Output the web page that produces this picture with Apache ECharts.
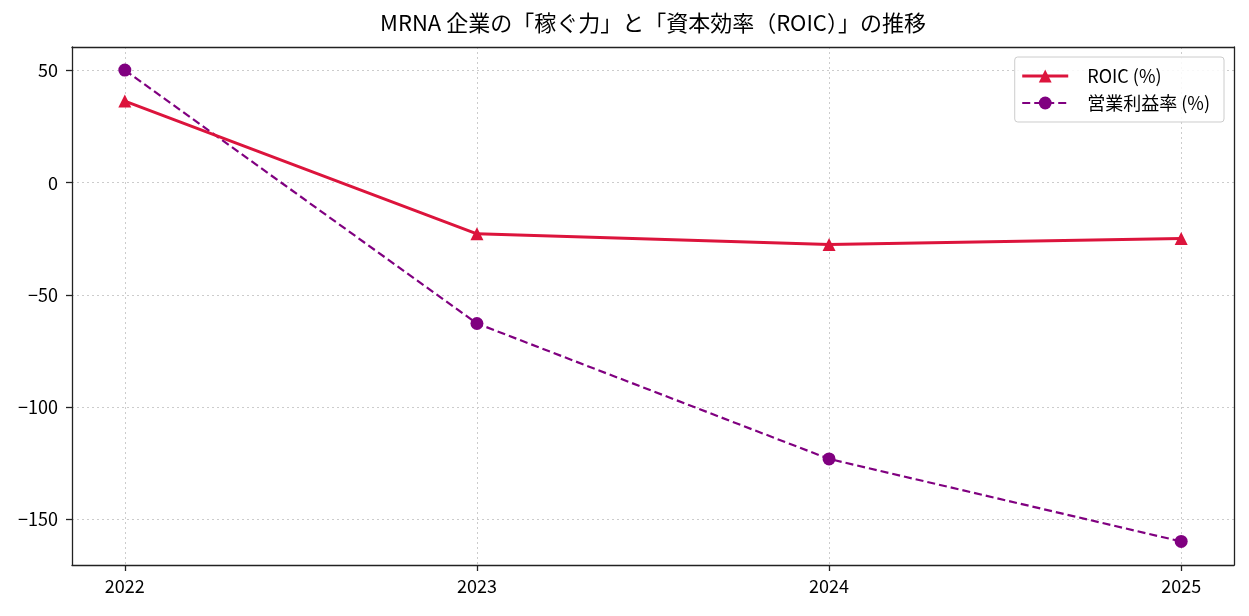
<!DOCTYPE html>
<html><head><meta charset="utf-8">
<script src="https://cdn.jsdelivr.net/npm/echarts@6/dist/echarts.min.js"></script>
<style>html,body{margin:0;padding:0;background:#fff}#c{width:1249px;height:616px}</style>
</head><body><div id="c"></div>
<script>
const years = [2022, 2023, 2024, 2025];
const roic = [36.4, -22.8, -27.6, -24.9];
const opMargin = [50.2, -62.8, -123.2, -160.0];
const yTicks = [-150, -100, -50, 0, 50];
const titleText = 'MRNA 企業の「稼ぐ力」と「資本効率（ROIC）」の推移';
const nameRoic = 'ROIC (%)';
const nameOp = '営業利益率 (%)';

const font = '"Noto Sans CJK JP", "Noto Sans", sans-serif';
const chart = echarts.init(document.getElementById('c'));
const gridLine = {show: true, lineStyle: {color: '#cccccc', type: [2, 3], width: 1}};
const frameLine = {show: true, onZero: false, lineStyle: {color: '#222', width: 1.3}};
chart.setOption({
  animation: false,
  backgroundColor: '#fff',
  textStyle: {fontFamily: font},
  graphic: [{
    type: 'text', x: 653, y: 12,
    style: {text: titleText, fontFamily: font, fontSize: 22, fill: '#000', letterSpacing: 3,
            textAlign: 'center', textVerticalAlign: 'top'}
  }],
  legend: {
    right: 25, top: 57, orient: 'vertical', itemGap: 9,
    itemWidth: 46, itemHeight: 16,
    padding: [10, 14, 10, 6],
    borderColor: '#cccccc', borderWidth: 1, borderRadius: 3,
    backgroundColor: 'rgba(255,255,255,0.85)',
    textStyle: {fontFamily: font, fontSize: 18, color: '#000', padding: [0, 0, 0, 14]},
    data: [
      {name: nameRoic, lineStyle: {width: 3}},
      {name: nameOp, lineStyle: {width: 2.2}}
    ]
  },
  grid: {left: 72, right: 15, top: 47, bottom: 51},
  xAxis: [{
    type: 'value', min: 2021.85, max: 2025.15,
    axisLine: frameLine,
    axisTick: {show: true, length: 6, lineStyle: {color: '#222', width: 1.3}, customValues: years},
    axisLabel: {customValues: years, fontSize: 18, color: '#000', margin: 12, formatter: v => String(v)},
    splitLine: gridLine
  }, {
    type: 'value', position: 'top', min: 2021.85, max: 2025.15,
    axisLine: frameLine, axisTick: {show: false}, axisLabel: {show: false}, splitLine: {show: false}
  }],
  yAxis: [{
    type: 'value', min: -170.5, max: 60.5,
    axisLine: frameLine,
    axisTick: {show: true, length: 6, lineStyle: {color: '#222', width: 1.3}, customValues: yTicks},
    axisLabel: {customValues: yTicks, fontSize: 18, color: '#000', margin: 14,
      formatter: v => (v < 0 ? '\u2212' + Math.abs(v) : String(v))},
    splitLine: gridLine
  }, {
    type: 'value', position: 'right', min: -170.5, max: 60.5,
    axisLine: frameLine, axisTick: {show: false}, axisLabel: {show: false}, splitLine: {show: false}
  }],
  series: [
    {name: nameRoic, type: 'line', data: years.map((y, i) => [y, roic[i]]),
     symbol: 'triangle', symbolSize: 13, itemStyle: {color: '#DC143C'},
     lineStyle: {color: '#DC143C', width: 3}, z: 3},
    {name: nameOp, type: 'line', data: years.map((y, i) => [y, opMargin[i]]),
     symbol: 'circle', symbolSize: 13, itemStyle: {color: '#800080'},
     lineStyle: {color: '#800080', width: 2.2, type: [8, 4]}, z: 2}
  ]
});
</script></body></html>
